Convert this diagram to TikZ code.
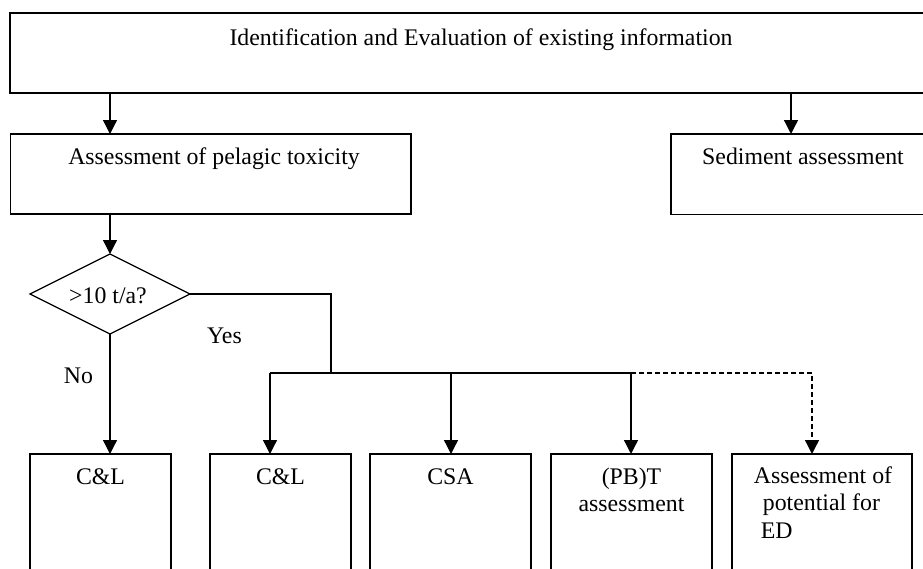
\documentclass[tikz,border=0pt]{standalone}
\usepackage{fontspec}
\setmainfont{Liberation Serif}
\usetikzlibrary{arrows.meta,shapes.geometric}
\begin{document}
\begin{tikzpicture}[x=1pt,y=-1pt,
  box/.style={draw,line width=1.3pt,inner sep=0pt,outer sep=0pt,anchor=north west},
  lbl/.style={anchor=base,inner sep=0pt,font=\fontsize{23.8}{27.5}\selectfont,align=center},
  link/.style={line width=1.3pt,-{Triangle[width=14pt,length=14pt]}},
  seg/.style={line width=1.3pt},
]
\useasboundingbox (0,0) rectangle (923,568);
\clip (0,0) rectangle (923,568);
% boxes
\node[box,minimum width=930pt,minimum height=80pt] (top) at (10,13) {};
\node[box,minimum width=400.5pt,minimum height=80pt] (pel) at (10.5,134) {};
\node[box,minimum width=270pt,minimum height=80.5pt] (sed) at (671,134) {};
\node[draw,diamond,line width=1.3pt,minimum width=160pt,minimum height=80pt,inner sep=0pt,outer sep=0pt,shape aspect=2] (dia) at (110,294) {};
\node[box,minimum width=141pt,minimum height=150pt] (b1) at (30,454) {};
\node[box,minimum width=141pt,minimum height=150pt] (b2) at (210,454) {};
\node[box,minimum width=161pt,minimum height=150pt] (b3) at (370,454) {};
\node[box,minimum width=161pt,minimum height=150pt] (b4) at (551,454) {};
\node[box,minimum width=180pt,minimum height=150pt] (b5) at (732,454) {};
% texts
\node[lbl] (ttop) at (481,45) {Identification and Evaluation of existing information};
\node[lbl] (tpel) at (214,164) {Assessment of pelagic toxicity};
\node[lbl] (tsed) at (803,164) {Sediment assessment};
\node[lbl] (tdia) at (108,303) {>10 t/a?};
\node[lbl] (tyes) at (224.5,343) {Yes};
\node[lbl] (tno) at (78.5,383) {No};
\node[lbl] (t1) at (100.5,484) {C\&L};
\node[lbl] (t2) at (280.5,484) {C\&L};
\node[lbl] (t3) at (450.5,484) {CSA};
\node[lbl] (t4) at (631.5,511.5) {(PB)T\\assessment};
\node[lbl,align=left] (t5) at (823,538) {Assessment of\\\hspace*{9pt}potential for\\\hspace*{7pt}ED};
% coordinates
\coordinate (xs) at (791,0);
\coordinate (bj) at (331,373);
\coordinate (bA) at (270,373);
\coordinate (bB) at (451,373);
\coordinate (bC) at (631,373);
\coordinate (bD) at (812,373);
% connectors
\draw[link] (dia.north |- top.south) -- (dia.north |- pel.north);
\draw[link] (xs |- top.south) -- (xs |- sed.north);
\draw[link] (dia.north |- pel.south) -- (dia.north);
\draw[link] (dia.south) -- (dia.south |- b1.north);
\draw[seg] (dia.east) -| (bj);
\draw[seg] (bA) -- (bC);
\draw[link] (bA) -- (bA |- b2.north);
\draw[link] (bB) -- (bB |- b3.north);
\draw[link] (bC) -- (bC |- b4.north);
\draw[link,dash pattern=on 5pt off 3pt] (bC) -- (bD) -- (bD |- b5.north);
\end{tikzpicture}
\end{document}
